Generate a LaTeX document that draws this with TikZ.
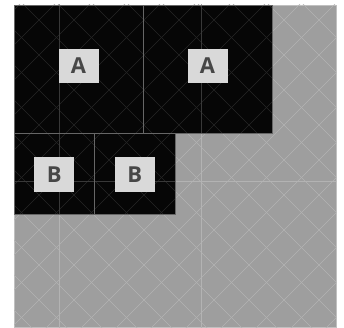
\documentclass[tikz,border=0pt]{standalone}
\usepackage{fontspec}
\setmainfont{Open Sans}
\usepackage{xcolor}
\usepackage{tikz}
\usetikzlibrary{positioning}

\definecolor{bgGray}{HTML}{9E9E9E}
\definecolor{cellBlack}{HTML}{060606}
\definecolor{tagGray}{HTML}{D9D9D9}
\definecolor{tagText}{HTML}{474747}

\begin{document}
\begin{tikzpicture}[
  x=1pt, y=-1pt,
  every node/.style = {inner sep=0pt, outer sep=0pt},
  board/.style = {rectangle, anchor=north west, fill=bgGray, draw=white!35!bgGray, line width=0.6pt},
  cellA/.style = {rectangle, anchor=north west, fill=cellBlack, draw=gray!80!black, line width=0.6pt,
    minimum width=129pt, minimum height=128pt},
  cellB/.style = {rectangle, anchor=north west, fill=cellBlack, draw=gray!80!black, line width=0.6pt,
    minimum width=80.5pt, minimum height=81pt},
  tag/.style = {rectangle, fill=tagGray, text=tagText, minimum width=40pt, minimum height=34pt,
    font=\fontsize{22}{22}\selectfont\bfseries},
  hatchlight/.style = {line width=0.5pt, white!22!bgGray},
  hatchdark/.style = {line width=0.5pt, white!13!cellBlack},
  gridlight/.style = {line width=0.5pt, white!22!bgGray},
  griddark/.style = {line width=0.5pt, white!20!cellBlack}
]
\useasboundingbox (0,0) rectangle (344,328);

% Board
\node[board, minimum width=322pt, minimum height=322pt] (board) at (14,5) {};
\begin{scope}
  \clip (board.north west) rectangle (board.south east);
  \foreach \k in {0,...,20} {
    \draw[hatchlight] ({24+35*\k},0) -- ({24+35*\k-400},400);
    \draw[hatchlight] ({19+35*(\k-10)},0) -- ({19+35*(\k-10)+400},400);
  }
  \draw[gridlight] (59,0) -- (59,328);
  \draw[gridlight] (201,0) -- (201,328);
  \draw[gridlight] (0,181) -- (344,181);
\end{scope}

% Cells
\node[cellA] (a1) at (14,5) {};
\node[cellA, right=0pt of a1] (a2) {};
\node[cellB] (b1) at (14,133) {};
\node[cellB, right=0pt of b1] (b2) {};

% Hatch on the black cells
\begin{scope}
  \clip (a1.north west) rectangle (a2.south east)
        (b1.north west) rectangle (b2.south east);
  \foreach \k in {0,...,20} {
    \draw[hatchdark] ({24+35*\k},0) -- ({24+35*\k-400},400);
    \draw[hatchdark] ({19+35*(\k-10)},0) -- ({19+35*(\k-10)+400},400);
  }
  \draw[griddark] (59,0) -- (59,328);
  \draw[griddark] (201,0) -- (201,328);
  \draw[griddark] (0,181) -- (344,181);
\end{scope}
\draw[gray!80!black, line width=0.6pt] (a1.north west) rectangle (a1.south east);
\draw[gray!80!black, line width=0.6pt] (a2.north west) rectangle (a2.south east);
\draw[gray!80!black, line width=0.6pt] (b1.north west) rectangle (b1.south east);
\draw[gray!80!black, line width=0.6pt] (b2.north west) rectangle (b2.south east);

% Labels
\node[tag] (la1) at ([yshift=3pt]a1.center) {A};
\node[tag] (la2) at ([yshift=3pt]a2.center) {A};
\node[tag] (lb1) at ([yshift=-1pt]b1.center) {B};
\node[tag] (lb2) at ([yshift=-1pt]b2.center) {B};

\end{tikzpicture}
\end{document}
